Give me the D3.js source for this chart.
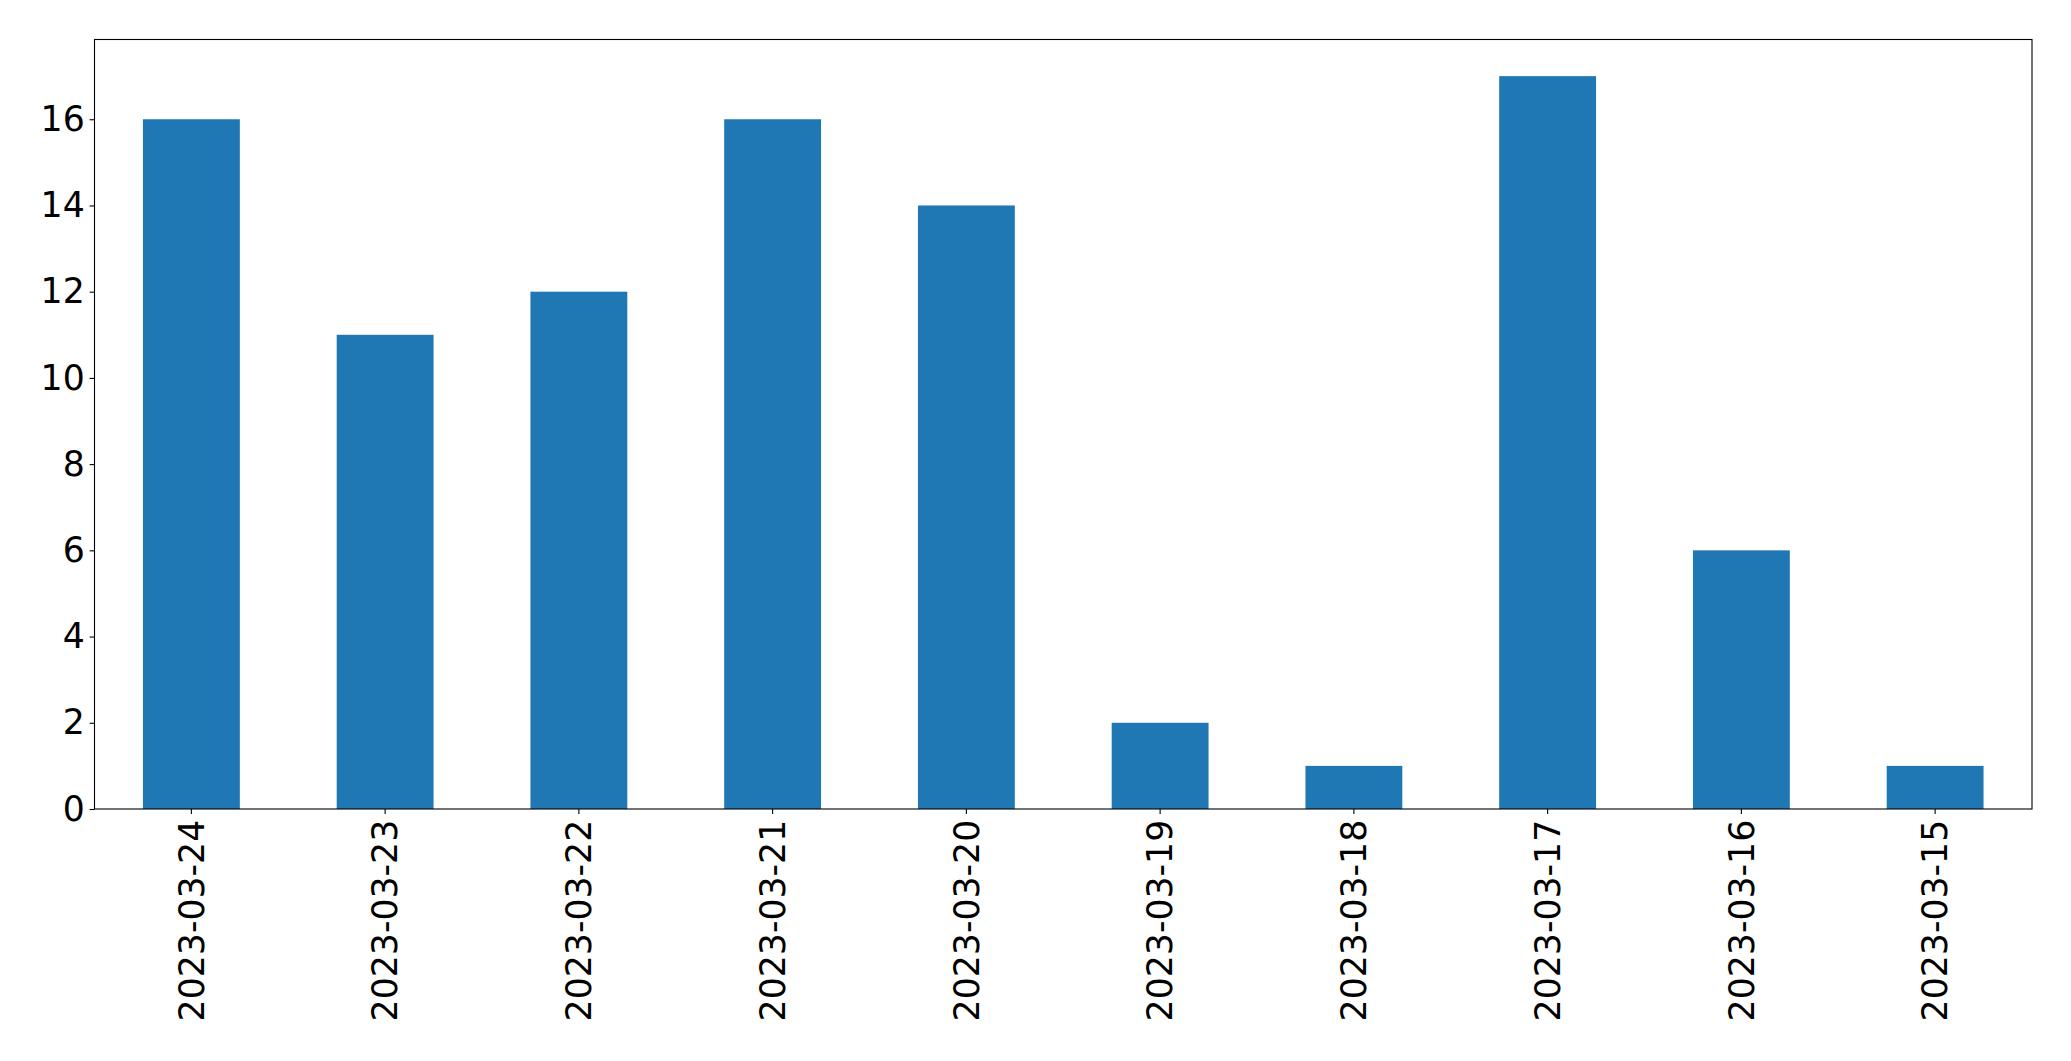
<!DOCTYPE html>
<html>
<head>
<meta charset="utf-8">
<script src="https://cdn.jsdelivr.net/npm/d3@7"></script>
<style>
  body { margin: 0; background: #fff; }
  svg { display: block; }
  text { font-family: "DejaVu Sans", sans-serif; }
</style>
</head>
<body>
<svg width="2071" height="1061"></svg>
<script>
// dates as they appear on the x axis (newest first)
var categories = ["2023-03-24", "2023-03-23", "2023-03-22", "2023-03-21", "2023-03-20",
                  "2023-03-19", "2023-03-18", "2023-03-17", "2023-03-16", "2023-03-15"];
var counts = [16, 11, 12, 16, 14, 2, 1, 17, 6, 1];
var yTicks = [0, 2, 4, 6, 8, 10, 12, 14, 16];

var svg = d3.select("svg"),
    margin = {top: 39.5, right: 39, bottom: 252, left: 94.5},
    width = +svg.attr("width") - margin.left - margin.right,
    height = +svg.attr("height") - margin.top - margin.bottom,
    g = svg.append("g").attr("transform", "translate(" + margin.left + "," + margin.top + ")");

var x = d3.scaleBand()
    .domain(categories)
    .range([0, width])
    .paddingInner(0.5)
    .paddingOuter(0.25);

var y = d3.scaleLinear()
    .domain([0, d3.max(counts) * 1.05])
    .range([height, 0]);

var fontSize = 34.7, tick = 4.9;

g.selectAll(".bar")
    .data(counts)
    .enter().append("rect")
    .attr("class", "bar")
    .attr("x", function(d, i) { return x(categories[i]); })
    .attr("y", function(d) { return y(d); })
    .attr("width", x.bandwidth())
    .attr("height", function(d) { return height - y(d); })
    .attr("fill", "#1f77b4");

var xAxis = g.append("g")
    .attr("transform", "translate(0," + height + ")")
    .call(d3.axisBottom(x).tickSize(tick).tickPadding(tick));
xAxis.select(".domain").remove();
xAxis.selectAll("line").attr("stroke", "#000").attr("stroke-width", 1.1);
xAxis.selectAll("text")
    .attr("font-size", fontSize)
    .attr("font-family", "DejaVu Sans")
    .attr("fill", "#000")
    .attr("transform", "rotate(-90)")
    .attr("text-anchor", "end")
    .attr("x", -(tick * 2 + 1))
    .attr("y", 0)
    .attr("dy", "0.35em");

var yAxis = g.append("g")
    .call(d3.axisLeft(y).tickValues(yTicks).tickSize(tick).tickPadding(tick));
yAxis.select(".domain").remove();
yAxis.selectAll("line").attr("stroke", "#000").attr("stroke-width", 1.1);
yAxis.selectAll("text")
    .attr("font-size", fontSize)
    .attr("font-family", "DejaVu Sans")
    .attr("fill", "#000");

// frame
g.append("rect")
    .attr("width", width)
    .attr("height", height)
    .attr("fill", "none")
    .attr("stroke", "#000")
    .attr("stroke-width", 1.1);
</script>
</body>
</html>
